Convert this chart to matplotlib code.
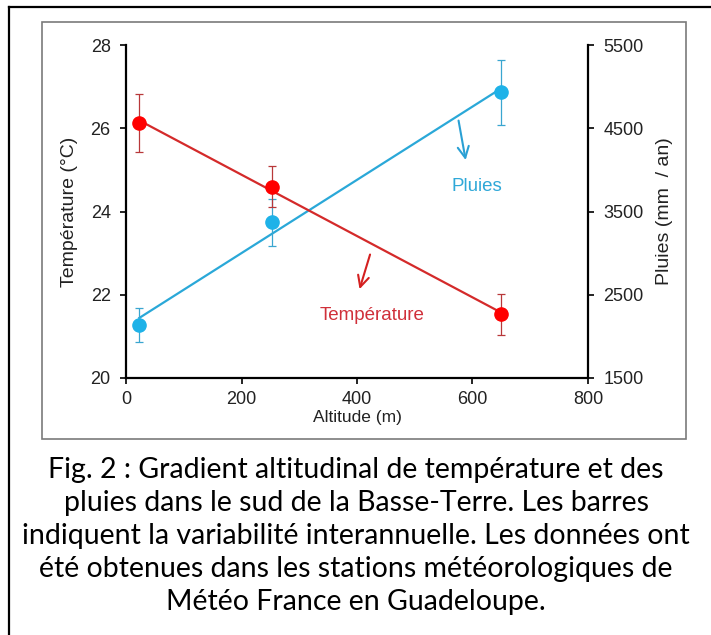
import numpy as np
import matplotlib
matplotlib.use('Agg')
import matplotlib.pyplot as plt
from matplotlib.patches import Rectangle
from matplotlib.lines import Line2D

plt.rcParams['font.family'] = ['Liberation Sans', 'DejaVu Sans']

# données
altitude = [23, 253, 650]                 # m
temperature = [26.12, 24.60, 21.53]       # °C
temp_err = [0.70, 0.50, 0.50]
pluies = [2135, 3370, 4930]               # mm / an
pluies_err = [200, 280, 390]

caption = ["Fig. 2 : Gradient altitudinal de température et des",
           "pluies dans le sud de la Basse-Terre. Les barres",
           "indiquent la variabilité interannuelle. Les données ont",
           "été obtenues dans les stations météorologiques de",
           "Météo France en Guadeloupe."]

W, H = 711, 635
fig = plt.figure(figsize=(W/100, H/100), dpi=100)

# cadres
fig.add_artist(Line2D([9/W, 9/W], [0, 1-6.5/H], color='black', lw=1.6))
fig.add_artist(Line2D([9/W, 1], [1-6.5/H, 1-6.5/H], color='black', lw=1.6))
fig.add_artist(Rectangle((42/W, 1-439/H), (686-42)/W, (439-22)/H, fill=False,
                         edgecolor='#7a7a7a', lw=1.2))

ax = fig.add_axes([126/W, 1-378/H, (588-126)/W, (378-45)/H])
ax2 = ax.twinx()

red_m, red_l, red_e = '#ff0000', '#d42a2a', '#b8383a'
blue_m, blue_l, blue_e = '#1eb2e8', '#2aa8d8', '#3aa6d0'

xs = np.array(altitude)
ft = np.polyfit(xs, temperature, 1)
fp = np.polyfit(xs, pluies, 1)
xe = np.array([altitude[0], altitude[-1]])

ax2.plot(xe, np.polyval(fp, xe), color=blue_l, lw=1.6, zorder=1)
ax2.errorbar(altitude, pluies, yerr=pluies_err, fmt='o', color=blue_m, ms=9.5,
             ecolor=blue_e, elinewidth=0.9, capsize=3, capthick=0.9, zorder=2)
ax.plot(xe, np.polyval(ft, xe), color=red_l, lw=1.6, zorder=3)
ax.errorbar(altitude, temperature, yerr=temp_err, fmt='o', color=red_m, ms=9.5,
            ecolor=red_e, elinewidth=0.9, capsize=3, capthick=0.9, zorder=4)
ax.set_zorder(ax2.get_zorder() + 1)
ax.patch.set_visible(False)

ax.set_xlim(0, 800); ax.set_ylim(20, 28)
ax2.set_ylim(1500, 5500)
ax.set_xticks([0, 200, 400, 600, 800])
ax.set_yticks([20, 22, 24, 26, 28])
ax2.set_yticks([1500, 2500, 3500, 4500, 5500])

tc = '#222222'
for a in (ax, ax2):
    a.spines['top'].set_visible(False)
    for s in a.spines.values():
        s.set_linewidth(1.6)
    a.tick_params(width=1.2, length=4, labelsize=13, colors='black',
                  labelcolor=tc, pad=7)
ax.spines['right'].set_visible(False)
ax2.spines['left'].set_visible(False)
ax2.spines['bottom'].set_visible(False)
ax.tick_params(axis='x', pad=5)

ax.set_xlabel('Altitude (m)', fontsize=12.5, color=tc, labelpad=2)
ax.set_ylabel('Température (°C)', fontsize=14, color=tc, labelpad=9)
ax2.set_ylabel('Pluies (mm  / an)', fontsize=14, color=tc, labelpad=9)

# annotations
ax.text(608, 24.59, 'Pluies', color='#2fa8d8', fontsize=13.5,
        ha='center', va='center')
ax.annotate('', xy=(589, 25.17), xytext=(575, 26.25),
            arrowprops=dict(arrowstyle='->', color='#2aa0d4', lw=1.5,
                            mutation_scale=20))
ax.text(426, 21.51, 'Température', color='#d0303a', fontsize=13.5,
        ha='center', va='center')
ax.annotate('', xy=(403, 22.07), xytext=(424, 23.03),
            arrowprops=dict(arrowstyle='->', color='#d42020', lw=1.5,
                            mutation_scale=20))

# légende de la figure
for i, line in enumerate(caption):
    fig.text(356/W, 1-(470+33*i)/H, line, ha='center', va='center',
             fontsize=20.5, family=['Lato', 'DejaVu Sans'], color='black')

fig.savefig('out.png', dpi=100)
